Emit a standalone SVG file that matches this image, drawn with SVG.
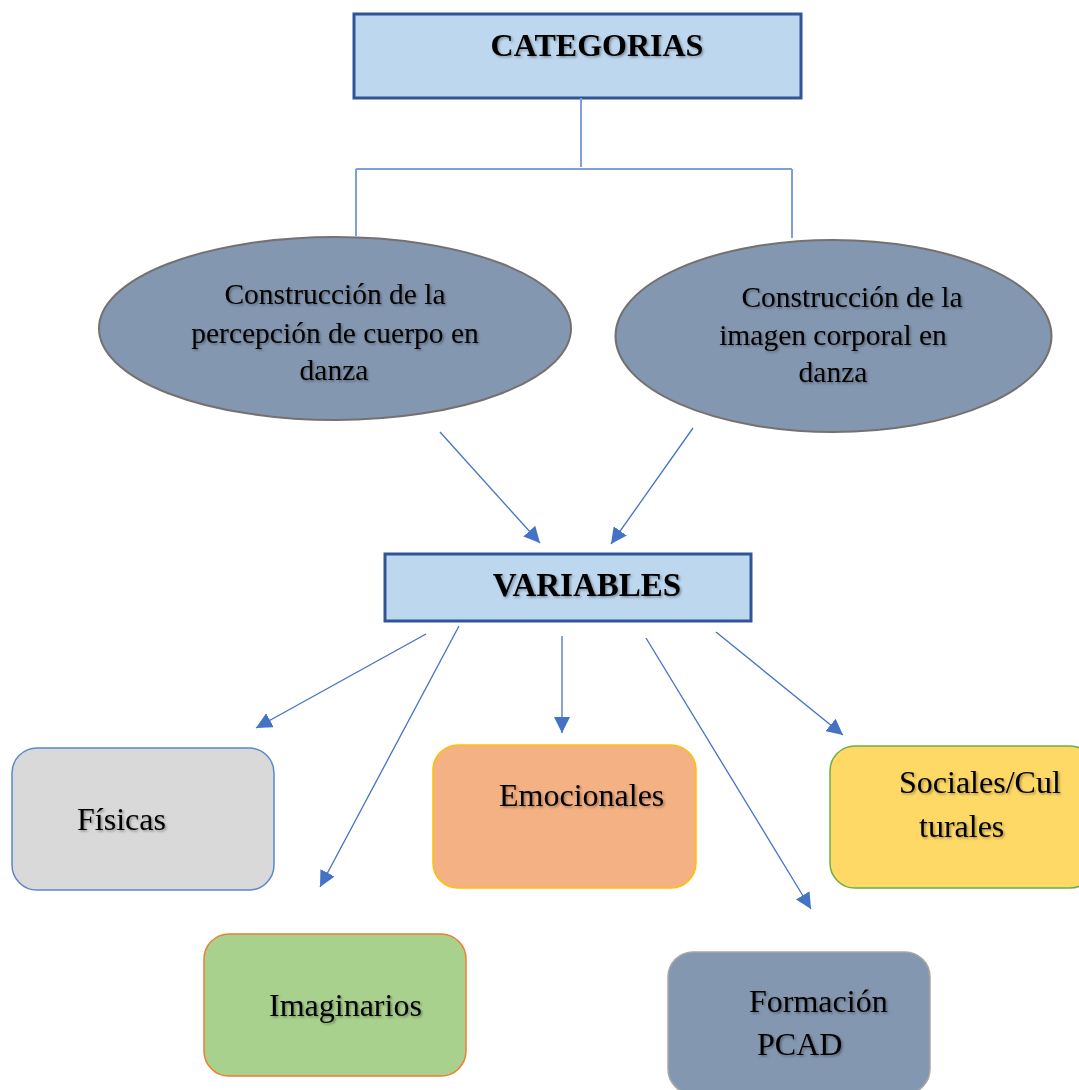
<svg xmlns="http://www.w3.org/2000/svg" width="1079" height="1090" viewBox="0 0 1079 1090">
<style>
.t{font-family:"Liberation Serif","Times New Roman",serif;fill:#000;filter:url(#sh)}
.hdr{fill:#BDD7EE;stroke:#2F5597;stroke-width:3}
.ell{fill:#8497B0;stroke:#767171;stroke-width:2}
.tree{stroke:#7F9FDB;stroke-width:2;fill:none}
.arr{stroke:#4472C4;stroke-width:1.3;fill:none;marker-end:url(#ah)}
</style>
<defs>
<filter id="sh" x="-10%" y="-30%" width="120%" height="160%">
<feDropShadow dx="1.5" dy="1.5" stdDeviation="1" flood-color="#000" flood-opacity="0.35"/>
</filter>
<marker id="ah" markerUnits="userSpaceOnUse" markerWidth="18" markerHeight="16" refX="16" refY="8" orient="auto">
<path d="M0,0 L16,8 L0,16 Z" fill="#4472C4"/>
</marker>
</defs>
<rect width="1079" height="1090" fill="#fff"/>

<g id="categorias">
<rect class="hdr" x="354" y="14" width="447" height="84"/>
<text class="t" x="597" y="56" font-size="32" font-weight="bold" text-anchor="middle">CATEGORIAS</text>
</g>

<g id="connectors">
<path class="tree" d="M581,98 V167 M356,169 H792 M356,169 V236 M792,169 V238"/>
<path class="arr" d="M440,432 L540,543"/>
<path class="arr" d="M693,428 L611,544"/>
<path class="arr" d="M426,634 L256,728"/>
<path class="arr" d="M459,626 L320,887"/>
<path class="arr" d="M562,636 L562,733"/>
<path class="arr" d="M646,638 L811,909"/>
<path class="arr" d="M716,632 L843,735"/>
</g>

<g id="percepcion">
<ellipse class="ell" cx="335" cy="328.5" rx="236" ry="91.5"/>
<text class="t" font-size="29.5" text-anchor="middle"><tspan x="335" y="304">Construcción de la</tspan><tspan x="335" y="343">percepción de cuerpo en</tspan><tspan x="334" y="380">danza</tspan></text>
</g>

<g id="imagen">
<ellipse class="ell" cx="833.5" cy="336" rx="218" ry="96"/>
<text class="t" font-size="29.5" text-anchor="middle"><tspan x="852" y="307">Construcción de la</tspan><tspan x="833" y="345">imagen corporal en</tspan><tspan x="833" y="382">danza</tspan></text>
</g>

<g id="variables">
<rect class="hdr" x="385" y="554" width="366" height="67"/>
<text class="t" x="587" y="596" font-size="33" font-weight="bold" text-anchor="middle">VARIABLES</text>
</g>

<g id="fisicas">
<rect x="12" y="748" width="262" height="142" rx="25" fill="#D9D9D9" stroke="#5B87D0" stroke-width="1.5"/>
<text class="t" x="77" y="830" font-size="32">Físicas</text>
</g>

<g id="emocionales">
<rect x="433" y="745" width="263" height="143" rx="25" fill="#F4B183" stroke="#FFC000" stroke-width="1.5"/>
<text class="t" x="499" y="806" font-size="32">Emocionales</text>
</g>

<g id="sociales">
<rect x="830" y="746" width="265" height="142" rx="25" fill="#FFD966" stroke="#70AD47" stroke-width="1.5"/>
<text class="t" font-size="32"><tspan x="899" y="793">Sociales/Cul</tspan><tspan x="919" y="837">turales</tspan></text>
</g>

<g id="imaginarios">
<rect x="204" y="934" width="262" height="142" rx="25" fill="#A9D18E" stroke="#ED7D31" stroke-width="1.5"/>
<text class="t" x="269" y="1016" font-size="32">Imaginarios</text>
</g>

<g id="formacion">
<rect x="668" y="952" width="262" height="142" rx="25" fill="#8497B0" stroke="#A6A6A6" stroke-width="1.5"/>
<text class="t" font-size="32"><tspan x="749" y="1012">Formación</tspan><tspan x="757" y="1055">PCAD</tspan></text>
</g>
</svg>
